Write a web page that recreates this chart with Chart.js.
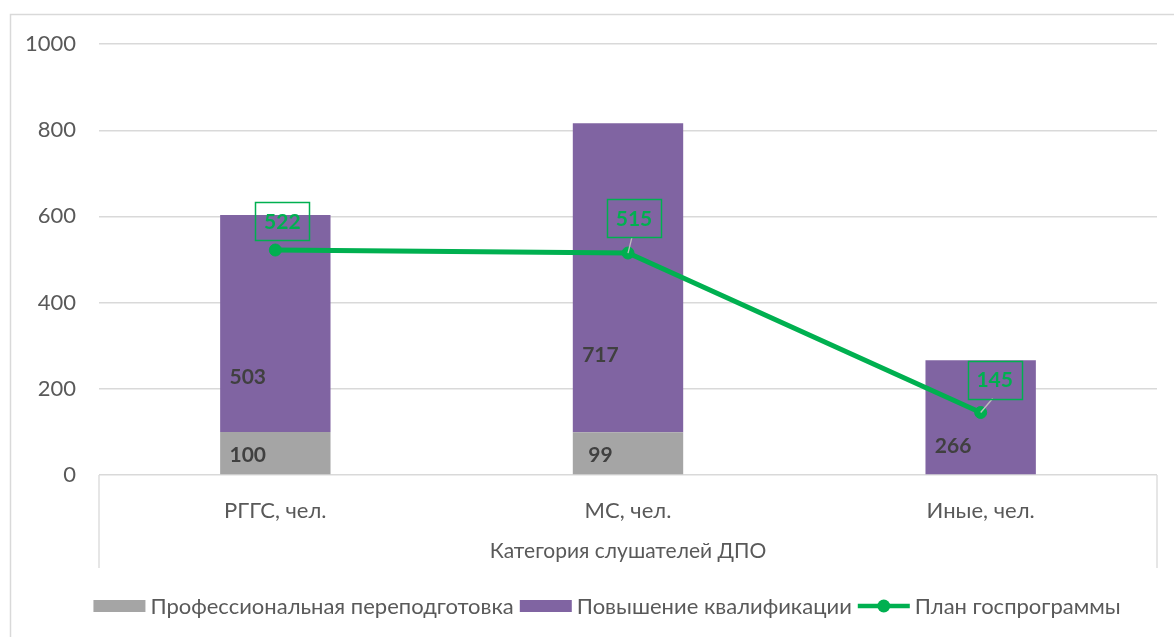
<!DOCTYPE html>
<html>
<head>
<meta charset="utf-8">
<script src="https://cdn.jsdelivr.net/npm/chart.js@4.4.1/dist/chart.umd.min.js"></script>
<style>
  html, body { margin: 0; padding: 0; background: #fff; }
  #wrap { width: 1174px; height: 637px; }
</style>
</head>
<body>
<div id="wrap"><canvas id="myChart" width="1174" height="637"></canvas></div>
<script>
// data
const categories = ['РГГС, чел.', 'МС, чел.', 'Иные, чел.']
const retraining = [100, 99, 0]
const qualification = [503, 717, 266]
const statePlan = [522, 515, 145]
const yTicks = [0, 200, 400, 600, 800, 1000]

const FONT = "Lato, 'Noto Sans', sans-serif"
const GRID = '#d9d9d9'
const TXT = '#595959'
const GREEN = '#00b050'

// where the boxed labels of the plan line sit, relative to the point
const planLabelShift = [[7, -29], [6, -35], [14, -33]]

const frame = {
    id: 'frame',
    beforeDraw(chart) {
        const c = chart.ctx
        c.save()
        c.fillStyle = '#fff'
        c.fillRect(0, 0, chart.width, chart.height)
        c.strokeStyle = GRID
        c.lineWidth = 1.5
        c.strokeRect(10.5, 14.5, chart.width + 20, chart.height + 40)
        // separators of the category axis
        const a = chart.chartArea
        c.lineWidth = 1.3
        c.beginPath()
        c.moveTo(a.left, a.bottom)
        c.lineTo(a.left, a.bottom + 93)
        c.moveTo(a.right, a.bottom)
        c.lineTo(a.right, a.bottom + 93)
        c.stroke()
        c.restore()
    }
}

const labels = {
    id: 'labels',
    afterDatasetsDraw(chart) {
        const c = chart.ctx
        c.save()
        c.font = 'bold 21px ' + FONT
        c.fillStyle = '#404040'
        c.textAlign = 'center'
        c.textBaseline = 'middle'
        // bar values
        chart.getDatasetMeta(0).data.forEach((bar, i) => {
            const v = retraining[i]
            if (!v) return
            const left = bar.x - bar.width / 2
            c.fillText(v, left + bar.width * 0.25, (bar.y + bar.base) / 2 + 2)
        })
        chart.getDatasetMeta(1).data.forEach((bar, i) => {
            const v = qualification[i]
            if (!v) return
            const left = bar.x - bar.width / 2
            const h = bar.base - bar.y
            c.fillText(v, left + bar.width * 0.25, bar.base - h * 0.25)
        })
        // plan values in boxes
        chart.getDatasetMeta(2).data.forEach((pt, i) => {
            const [dx, dy] = planLabelShift[i]
            const cx = pt.x + dx, cy = pt.y + dy
            const w = 54, h = 38
            if (i > 0) {
                c.strokeStyle = '#bfbfbf'
                c.lineWidth = 1.3
                c.beginPath()
                c.moveTo(pt.x, pt.y)
                c.lineTo(cx - 2, cy + h / 2)
                c.stroke()
            }
            c.strokeStyle = GREEN
            c.lineWidth = 1.5
            c.strokeRect(Math.round(cx - w / 2) + 0.5, Math.round(cy - h / 2) + 0.5, w, h)
            c.fillStyle = GREEN
            c.fillText(statePlan[i], cx, cy + 1)
        })
        c.restore()
    }
}

const legendBox = {
    id: 'legendBox',
    afterDraw(chart) {
        const c = chart.ctx
        c.save()
        c.font = '22px ' + FONT
        c.textBaseline = 'middle'
        const items = [
            {text: 'Профессиональная переподготовка', color: '#a5a5a5', kind: 'box'},
            {text: 'Повышение квалификации', color: '#8064a2', kind: 'box'},
            {text: 'План госпрограммы', color: GREEN, kind: 'line'}
        ]
        const sw = 52, gap = 5, between = 6
        let total = 0
        items.forEach(it => { it.w = sw + gap + c.measureText(it.text).width; total += it.w })
        total += between * (items.length - 1)
        let x = 607 - total / 2
        const y = 606
        items.forEach(it => {
            if (it.kind === 'box') {
                c.fillStyle = it.color
                c.fillRect(x, y - 6, sw, 12)
            } else {
                c.strokeStyle = it.color
                c.lineWidth = 4.5
                c.beginPath()
                c.moveTo(x, y)
                c.lineTo(x + sw, y)
                c.stroke()
                c.fillStyle = it.color
                c.beginPath()
                c.arc(x + sw / 2, y, 6.5, 0, Math.PI * 2)
                c.fill()
            }
            c.fillStyle = TXT
            c.fillText(it.text, x + sw + gap, y + 1)
            x += it.w + between
        })
        c.restore()
    }
}

const ctx = document.getElementById('myChart').getContext('2d')

let myChart = new Chart(ctx, {
    type: 'bar',
    data: {
        labels: categories,
        datasets: [
            {
                label: 'Профессиональная переподготовка',
                data: retraining,
                backgroundColor: '#a5a5a5',
                stack: 's',
                order: 2
            },
            {
                label: 'Повышение квалификации',
                data: qualification,
                backgroundColor: '#8064a2',
                stack: 's',
                order: 2
            },
            {
                type: 'line',
                label: 'План госпрограммы',
                data: statePlan,
                borderColor: GREEN,
                backgroundColor: GREEN,
                borderWidth: 5,
                pointRadius: 6,
                pointBorderWidth: 1,
                pointHoverRadius: 6,
                order: 1
            }
        ]
    },
    options: {
        responsive: false,
        animation: false,
        events: [],
        layout: {padding: {top: 44, left: 10, right: 17, bottom: 62}},
        datasets: {bar: {categoryPercentage: 1, barPercentage: 0.313}},
        plugins: {
            legend: {display: false},
            tooltip: {enabled: false}
        },
        scales: {
            x: {
                stacked: true,
                grid: {display: false, drawTicks: false},
                border: {display: false},
                ticks: {color: TXT, font: {family: FONT, size: 22}, padding: 23},
                title: {
                    display: true,
                    text: 'Категория слушателей ДПО',
                    color: TXT,
                    font: {family: FONT, size: 21},
                    padding: {top: 0, bottom: 11}
                },
                afterFit: s => { s.height = 100 }
            },
            y: {
                stacked: true,
                min: 0,
                max: 1000,
                afterBuildTicks: s => { s.ticks = yTicks.map(v => ({value: v})) },
                grid: {color: GRID, lineWidth: 1.4, drawTicks: false},
                border: {display: false},
                ticks: {
                    color: TXT,
                    font: {family: FONT, size: 22},
                    padding: 23,
                    callback: v => String(v)
                },
                afterFit: s => { s.width = 89 }
            }
        }
    },
    plugins: [frame, labels, legendBox]
})
</script>
</body>
</html>
